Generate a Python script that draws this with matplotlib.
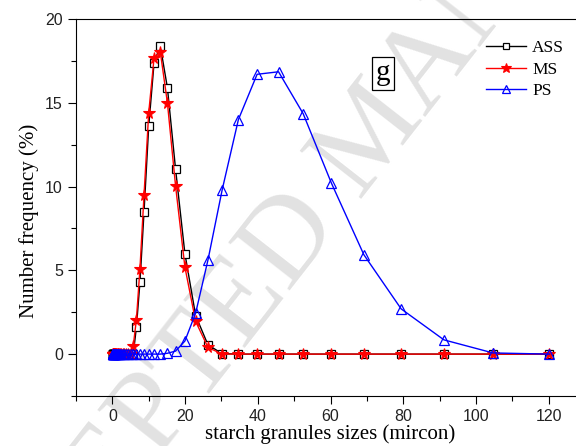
import matplotlib
matplotlib.use("Agg")
import matplotlib.pyplot as plt
from matplotlib.ticker import MultipleLocator

# size bins (micron)
sizes = [0.120, 0.138, 0.158, 0.182, 0.209, 0.240, 0.275, 0.316, 0.363, 0.417,
         0.479, 0.550, 0.631, 0.724, 0.832, 0.955, 1.10, 1.26, 1.45, 1.66,
         1.91, 2.19, 2.51, 2.88, 3.31, 3.80, 4.37, 5.01, 5.75,
         6.61, 7.59, 8.71, 10.0, 11.48, 13.18, 15.14, 17.38, 19.95, 22.91,
         26.30, 30.20, 34.67, 39.81, 45.71, 52.48, 60.26, 69.18, 79.43, 91.20,
         104.7, 120.2]

ass = [0, 0, 0, 0, 0, 0, 0, 0, 0, 0,
       0, 0, 0, 0, 0, 0, 0, 0, 0, 0,
       0, 0, 0, 0, 0, 0, 0, 0, 0.0,
       1.6, 4.3, 8.5, 13.6, 17.4, 18.4, 15.9, 11.05, 6.0, 2.3,
       0.55, 0.03, 0, 0, 0, 0, 0, 0, 0, 0,
       0, 0]

ms = [0, 0, 0, 0, 0, 0, 0, 0, 0, 0,
      0, 0, 0, 0, 0, 0, 0, 0, 0, 0,
      0, 0, 0, 0, 0, 0, 0, 0, 0.5,
      2.05, 5.1, 9.5, 14.4, 17.7, 18.05, 15.0, 10.05, 5.2, 1.95,
      0.4, 0.0, 0, 0, 0, 0, 0, 0, 0, 0,
      0, 0]

ps = [0, 0, 0, 0, 0, 0, 0, 0, 0, 0,
      0, 0, 0, 0, 0, 0, 0, 0, 0, 0,
      0, 0, 0, 0, 0, 0, 0, 0, 0,
      0, 0, 0, 0, 0, 0, 0.05, 0.18, 0.78, 2.45,
      5.62, 9.8, 14.0, 16.7, 16.85, 14.35, 10.2, 5.93, 2.7, 0.85,
      0.07, 0.0]

xticks = [0, 20, 40, 60, 80, 100, 120]
yticks = [0, 5, 10, 15, 20]

serif = "Liberation Serif"
sans = "Liberation Sans"

fig = plt.figure(figsize=(5.76, 4.46), dpi=100)
ax = fig.add_axes([76 / 576, 50 / 446, 509 / 576, 377 / 446])
ax.set_zorder(2)
ax.patch.set_alpha(0)

# faint watermark of the source document
fig.text(375 / 576, 1 - 135 / 446, "ACCEPTED MANUSCRIPT", fontsize=86,
         family=serif, color="#e2e2e2", rotation=52, rotation_mode="anchor",
         ha="center", va="center", zorder=0)

ax.plot(sizes, ass, color="black", lw=1.0, marker="s", ms=5.2,
        mfc="white", mec="black", mew=0.9, label="ASS", zorder=3)
ax.plot(sizes, ms, color="red", lw=1.0, marker="*", ms=8.5,
        mfc="red", mec="red", mew=0.8, label="MS", zorder=4)
ax.plot(sizes, ps, color="blue", lw=1.0, marker="^", ms=7.5,
        mfc="none", mec="blue", mew=0.9, label="PS", zorder=5)

ax.set_xlim(-10, 130)
ax.set_ylim(-2.5, 20)
ax.set_xticks(xticks)
ax.set_yticks(yticks)
ax.xaxis.set_minor_locator(MultipleLocator(10))
ax.yaxis.set_minor_locator(MultipleLocator(2.5))
ax.tick_params(which="major", direction="out", length=6, width=0.8,
               labelsize=11.5, colors="black")
ax.tick_params(which="minor", direction="out", length=3.5, width=0.8)
for lab in ax.get_xticklabels() + ax.get_yticklabels():
    lab.set_family(sans)
    lab.set_color("#222222")

ax.set_xlabel("starch granules sizes (mircon)", family=serif, fontsize=15,
              labelpad=0)
ax.set_ylabel("Number frequency (%)", family=serif, fontsize=15)
ax.yaxis.set_label_coords(-0.072, 0.464)

ax.spines["right"].set_visible(False)

leg = ax.legend(loc="upper left", bbox_to_anchor=(0.775, 0.985), frameon=False,
                prop={"family": serif, "size": 12.5}, handlelength=2.3,
                handletextpad=0.35, labelspacing=0.3, numpoints=1,
                markerscale=0.85)

fig.text(383 / 576, 1 - 73 / 446, "g", family=serif, fontsize=21,
         ha="center", va="center", zorder=3,
         bbox=dict(boxstyle="square,pad=0.12", fc="white", ec="black", lw=0.9))

fig.savefig("out.png", dpi=100)
